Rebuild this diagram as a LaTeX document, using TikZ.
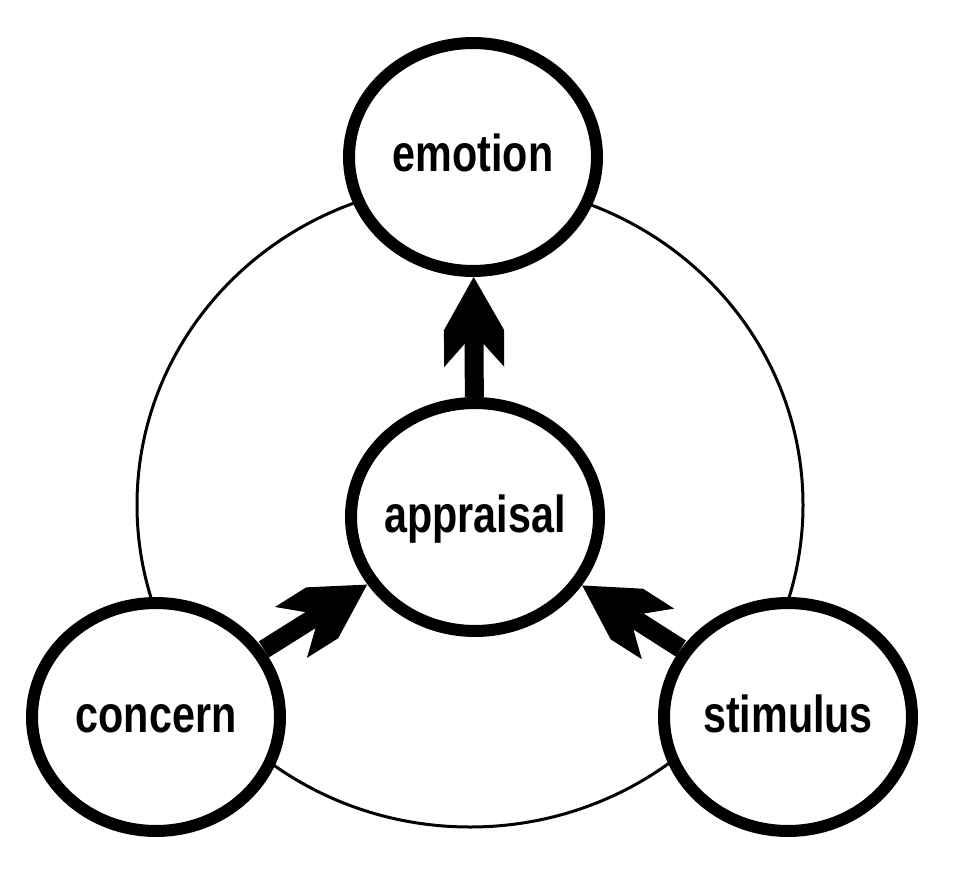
\documentclass[tikz,border=0pt]{standalone}
\usepackage{fontspec}
\newfontfamily\labelfont{Liberation Sans}[FakeStretch=0.73]
\usetikzlibrary{shapes.geometric, arrows, positioning}

\pgfdeclarearrow{
	name = barbed,
	setup code = {
		\pgfarrowssettipend{0pt}
		\pgfarrowssetlineend{-34pt}
		\pgfarrowssetbackend{-51.2pt}
	},
	drawing code = {
		\pgfpathmoveto{\pgfqpoint{0pt}{0pt}}
		\pgfpathlineto{\pgfqpoint{-30.2pt}{17.1pt}}
		\pgfpathlineto{\pgfqpoint{-51.2pt}{17.1pt}}
		\pgfpathlineto{\pgfqpoint{-38.1pt}{5.4pt}}
		\pgfpathlineto{\pgfqpoint{-38.1pt}{-5.4pt}}
		\pgfpathlineto{\pgfqpoint{-51.2pt}{-17.1pt}}
		\pgfpathlineto{\pgfqpoint{-30.2pt}{-17.1pt}}
		\pgfpathclose
		\pgfusepathqfill
	},
}

\begin{document}
\begin{tikzpicture}[x=0.02cm, y=-0.02cm]
		\tikzstyle{Node} = [circle, minimum size=4.56cm, inner sep=0pt, xscale=1.088, transform shape, text height=0.6cm, text depth=0pt, line width=0.24cm, draw=black, fill=white, font=\labelfont\bfseries\fontsize{29.6}{30}\selectfont]
		\tikzstyle{arrow} = [line width=0.38cm, -barbed]
		
		\useasboundingbox (0, 0) rectangle (960, 892);
		\draw [line width=0.06cm, black] (470, 505) ellipse [x radius=333, y radius=322];
		
		\node (emotion) [Node] at (473,157) {emotion};
		\node (appraisal) [Node] at (475,517) {appraisal};
		\node (concern) [Node] at (156,717) {concern};
		\node (stimulus) [Node] at (788,717) {stimulus};
		
		\draw [arrow] (appraisal) -- (emotion);
		\draw [arrow] (concern) -- (appraisal);
		\draw [arrow] (stimulus) -- (appraisal);
		\end{tikzpicture}
\end{document}
